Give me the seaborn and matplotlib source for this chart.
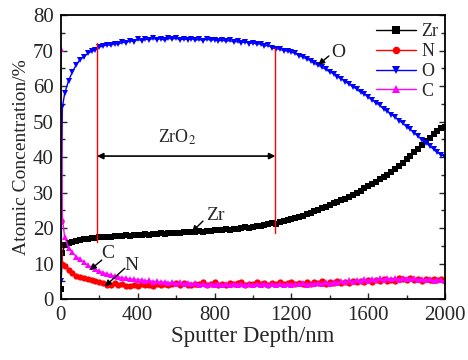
import matplotlib
matplotlib.use('Agg')
import matplotlib.pyplot as plt
from matplotlib.ticker import MultipleLocator
import seaborn as sns

# Profundidade de sputter (nm) e concentrações
depth = [0, 8, 20, 40, 60, 80, 100, 120, 140, 160, 180, 200, 220, 240, 260, 280, 300,
         320, 340, 360, 380, 400, 420, 440, 460, 480, 500, 520, 540, 560, 580, 600,
         620, 640, 660, 680, 700, 720, 740, 760, 780, 800, 820, 840, 860, 880, 900,
         920, 940, 960, 980, 1000, 1020, 1040, 1060, 1080, 1100, 1120, 1140, 1160,
         1180, 1200, 1220, 1240, 1260, 1280, 1300, 1320, 1340, 1360, 1380, 1400,
         1420, 1440, 1460, 1480, 1500, 1520, 1540, 1560, 1580, 1600, 1620, 1640,
         1660, 1680, 1700, 1720, 1740, 1760, 1780, 1800, 1820, 1840, 1860, 1880,
         1900, 1920, 1940, 1960, 1980, 2000]

zr = [3.0, 13.0, 15.2, 15.8, 16.2, 16.4, 16.7, 16.9, 17.0, 17.2, 17.3, 17.4, 17.5, 17.6,
      17.5, 17.8, 17.7, 17.9, 18.0, 17.9, 18.1, 18.2, 18.0, 18.3, 18.2, 18.4, 18.3,
      18.5, 18.4, 18.6, 18.5, 18.7, 18.6, 18.8, 18.9, 18.8, 19.0, 19.1, 19.0, 19.3,
      19.2, 19.4, 19.5, 19.4, 19.7, 19.6, 19.9, 19.8, 20.1, 20.2, 20.1, 20.4, 20.5,
      20.7, 20.8, 21.1, 21.4, 21.2, 21.8, 22.0, 22.3, 22.5, 22.8, 23.2, 23.5, 23.9,
      24.2, 24.7, 25.1, 25.6, 26.0, 26.5, 27.0, 27.4, 27.9, 28.3, 28.8, 29.4, 30.0,
      30.6, 31.3, 31.8, 32.5, 33.1, 33.8, 34.5, 35.1, 35.9, 36.6, 37.4, 38.3, 39.5,
      40.3, 41.5, 42.3, 43.4, 44.5, 45.5, 46.5, 47.5, 48.2, 48.6]

n = [22.0, 10.0, 9.2, 8.3, 7.4, 6.6, 6.2, 5.9, 5.6, 5.4, 5.1, 4.9, 4.5, 4.1, 4.0, 4.6,
     3.9, 4.2, 3.8, 3.7, 4.0, 3.8, 4.2, 3.9, 4.1, 3.6, 4.3, 4.0, 4.4, 3.9, 4.2, 4.6,
     4.0, 4.5, 4.1, 3.9, 4.4, 4.2, 4.7, 4.0, 4.3, 4.8, 4.1, 4.4, 4.0, 4.6, 4.2, 4.5,
     4.9, 4.1, 4.4, 4.3, 4.7, 4.2, 4.5, 4.0, 4.6, 4.3, 4.8, 4.2, 4.5, 4.9, 4.3, 4.6,
     4.4, 4.9, 4.2, 4.7, 4.5, 5.0, 4.4, 4.8, 4.6, 5.1, 4.5, 4.9, 4.6, 5.2, 4.8, 5.0,
     4.7, 5.4, 4.9, 5.3, 5.0, 5.6, 5.1, 5.5, 5.2, 6.0, 5.6, 5.3, 6.1, 5.4, 5.8, 5.2,
     5.6, 5.3, 5.7, 5.4, 5.6, 5.2]

o = [5.0, 54.0, 58.0, 61.5, 64.0, 66.0, 67.5, 68.3, 69.2, 69.8, 70.2, 71.0, 71.3, 71.6,
     71.5, 72.0, 71.8, 72.4, 72.2, 72.8, 72.5, 73.2, 72.8, 73.3, 73.0, 73.5, 73.1,
     73.4, 72.9, 73.5, 73.2, 73.6, 73.0, 73.3, 73.1, 73.4, 72.9, 73.2, 72.8, 73.3,
     72.9, 73.1, 72.7, 73.0, 72.6, 72.9, 72.4, 72.6, 72.2, 72.5, 72.0, 72.2, 71.8,
     71.9, 71.3, 71.5, 70.8, 70.5, 70.4, 70.0, 69.9, 69.6, 69.2, 68.6, 68.2, 67.6,
     67.2, 66.4, 65.9, 65.3, 64.7, 64.0, 63.5, 62.6, 62.1, 61.2, 60.7, 59.8, 59.2,
     58.3, 57.8, 56.9, 56.2, 55.3, 54.6, 53.6, 53.0, 52.0, 51.3, 50.3, 49.6, 48.6,
     47.8, 46.8, 45.9, 44.9, 44.1, 43.1, 42.3, 41.4, 40.6, 40.1]

c = [70.5, 22.5, 17.5, 14.5, 13.2, 12.0, 11.2, 10.4, 9.6, 9.0, 8.4, 7.9, 7.5, 7.1, 6.8,
     6.5, 6.3, 6.0, 5.9, 5.6, 5.7, 5.3, 5.5, 5.1, 5.3, 4.9, 5.1, 4.7, 4.9, 4.5, 4.8,
     4.4, 4.7, 4.3, 4.6, 4.2, 4.5, 4.1, 4.4, 4.0, 4.3, 4.1, 4.4, 3.9, 4.3, 4.0, 4.4,
     4.1, 4.3, 3.9, 4.2, 4.0, 4.3, 4.1, 4.4, 4.0, 4.3, 4.1, 4.4, 4.0, 4.3, 4.1, 4.4,
     4.2, 4.5, 4.1, 4.4, 4.2, 4.6, 4.3, 4.7, 4.4, 4.8, 4.6, 5.0, 4.7, 5.3, 4.9, 5.4,
     5.1, 5.6, 5.2, 5.7, 5.4, 5.9, 5.5, 6.0, 5.6, 5.9, 5.5, 6.1, 5.8, 5.6, 5.9, 5.4,
     5.7, 5.3, 5.6, 5.2, 5.5, 5.3, 5.1]

series_names = ['Zr', 'N', 'O', 'C']
series_values = [zr, n, o, c]
series_colors = ['black', '#ff0000', '#0000ff', '#ff00ff']
series_markers = ['s', 'o', 'v', '^']

sns.set_style('ticks')
plt.rcParams['font.family'] = ['Liberation Serif', 'DejaVu Serif']
plt.rcParams['mathtext.fontset'] = 'stix'

fig = plt.figure(figsize=(4.68, 3.6), dpi=100)
ax = fig.add_axes([0.130, 0.169, 0.821, 0.789])

for nome, valores, cor, marca in zip(series_names, series_values, series_colors, series_markers):
    sns.lineplot(x=depth, y=valores, ax=ax, color=cor, marker=marca, markersize=4.5,
                 markeredgewidth=0, linewidth=1, label=nome)

ax.set_xlim(0, 2000)
ax.set_ylim(0, 80)
ax.xaxis.set_major_locator(MultipleLocator(400))
ax.xaxis.set_minor_locator(MultipleLocator(200))
ax.yaxis.set_major_locator(MultipleLocator(10))
ax.yaxis.set_minor_locator(MultipleLocator(5))
ax.tick_params(which='both', direction='in', top=False, right=True, labelsize=15, width=1)
ax.tick_params(which='major', length=4, pad=5)
ax.tick_params(which='minor', length=3)
for s in ax.spines.values():
    s.set_linewidth(1.3)
    s.set_color('black')

ax.set_xlabel('Sputter Depth/nm', fontsize=16.5, labelpad=1)
ax.set_ylabel('Atomic Concentration/%', fontsize=14, labelpad=2)

# Região de ZrO2
ax.plot([188, 188], [16.1, 72.1], color='#ff0000', linewidth=1)
ax.plot([1117, 1117], [18.6, 70.7], color='#ff0000', linewidth=1)
ax.annotate('', xy=(188, 40.3), xytext=(1117, 40.3),
            arrowprops=dict(arrowstyle='<|-|>', color='black', lw=1.2,
                            shrinkA=0, shrinkB=0, mutation_scale=9))
ax.text(604, 45.6, 'ZrO$_2$', fontsize=13, ha='center', va='center')

# Rótulos com setas (cauda -> ponta)
rotulos = [('Zr', (802, 23.7), (740, 22.0), (682, 18.9)),
           ('C', (245, 13.0), (213, 11.0), (151, 8.2)),
           ('N', (370, 9.6), (333, 8.7), (229, 3.6)),
           ('O', (1443, 69.6), (1395, 68.5), (1340, 66.0))]
for texto, pos, cauda, ponta in rotulos:
    ax.annotate('', xy=ponta, xytext=cauda,
                arrowprops=dict(arrowstyle='-|>', color='black', lw=1,
                                shrinkA=0, shrinkB=0, mutation_scale=9))
    ax.text(pos[0], pos[1], texto, fontsize=14, ha='center', va='center')

leg = ax.legend(loc='upper right', bbox_to_anchor=(1.015, 1.015), frameon=False, fontsize=13,
                handlelength=2.2, labelspacing=0.15, handletextpad=0.3, borderaxespad=0.3,
                numpoints=1, markerscale=1.2)

plt.savefig('out.png', dpi=100)
